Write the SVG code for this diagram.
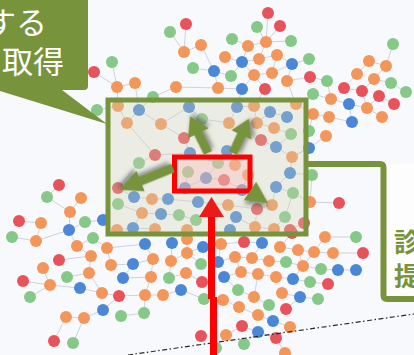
<svg xmlns="http://www.w3.org/2000/svg" width="414" height="355" viewBox="0 0 414 355">
<style>
.o{fill:#F4965A}.b{fill:#4A87D7}.g{fill:#85C887}.r{fill:#E8525A}
.edge{fill:none;stroke:#C3C8D2;stroke-width:0.8}
.olive{fill:#77933C}
.ga{fill:#77933C;filter:url(#sh)}
</style>
<defs>
<filter id="sh" x="-50%" y="-50%" width="200%" height="200%">
<feDropShadow dx="2" dy="3" stdDeviation="2" flood-color="#444" flood-opacity="0.55"/>
</filter>
</defs>
<rect width="414" height="355" fill="#F8F9FC"/>
<g id="connectors">
<path class="edge" d="M268,13L266,42M257,27L266,42M280,26L266,42M266,42L248,46M266,42L291,41M248,46L232,39M248,46L242,62M266,42L259,59M259,59L242,62M259,59L277,55M242,62L225,57M242,62L231,76M242,62L254,75M254,75L272,73M254,75L242,89M254,75L265,89M272,73L277,55M272,73L292,64M231,76L214,71M214,71L193,68M214,71L218,88M218,88L176,87M218,88L242,89M201,45L184,52M184,52L186,24M184,52L170,32M201,45L214,71M176,87L153,97M242,89L237,107M265,89L254,106M277,55L292,64M292,64L309,59M292,64L287,81M287,81L310,77M287,81L296,104M310,77L327,81M327,81L331,99M331,99L313,94M331,99L349,104M344,88L357,74M357,74L369,61M369,61L386,66M386,66L393,44M386,66L374,79M374,79L362,91M374,79L391,83M391,83L406,92M379,96L394,104M379,96L367,108M367,108L349,104M367,108L382,117M349,104L352,122M352,122L329,117M329,117L313,114M313,114L296,104M313,114L309,131M326,136L309,148M309,148L292,157M312,175L290,173M310,202L339,203M310,202L293,193M362,91L344,88M362,91L367,108"/>
<path class="edge" d="M112,62L117,87M94,72L117,87M117,87L135,83M135,83L139,110M117,87L118,106M97,110L118,106M153,97L139,110M118,106L127,123M139,110L127,123M139,110L161,124M161,124L189,107M189,107L202,119M202,119L184,138M202,119L229,123M229,123L237,107M237,107L254,106M254,106L257,123M257,123L270,112M270,112L287,117M274,128L257,123M274,128L291,134M261,140L276,147M276,147L292,157M276,147L291,134M184,138L190,153M155,155L139,163M155,155L190,153M190,153L218,163M227,151L235,165M218,163L206,178M206,178L224,180M188,172L185,188M206,178L185,188M224,180L242,190M248,175L242,190M118,188L134,197M134,197L152,199M152,199L168,199M168,199L198,202M198,202L228,205M228,205L257,209M257,209L272,205M272,205L276,187M276,187L290,173M290,173L292,157M293,193L276,187M118,204L142,213M142,213L161,214M161,214L179,215M179,215L196,220M196,220L187,230M236,217L230,230M236,217L255,227M255,227L274,229M274,229L285,217M290,230L304,223M117,230L133,228M133,228L155,229M142,213L133,228M127,123L155,155M161,124L184,138M118,188L139,163M257,209L255,227M285,217L293,193"/>
<path class="edge" d="M292,157L309,148M312,175L310,202M325,237L356,237M325,237L314,252M314,252L333,253M333,253L363,253M298,250L314,252M280,247L298,250M286,262L303,266M303,266L321,269M321,269L338,270M338,270L356,270M276,277L293,279M293,279L310,282M310,282L328,284M282,293L300,297M300,297L318,299M286,309L300,297M273,321L290,327M290,327L276,338M276,338L285,353M292,233L280,247M303,266L298,250M314,252L303,266M293,279L303,266M269,261L286,262"/>
<path class="edge" d="M145,244L153,259M172,243L171,261M187,253L171,261M203,247L187,253M187,237L187,253M153,259L151,277M171,261L169,278M169,278L186,273M186,273L202,282M151,277L145,295M145,295L163,295M163,295L181,290M181,290L204,299M144,313L145,295M201,264L187,253M221,244L244,242M244,242L262,243M218,262L235,257M235,257L252,258M252,258L269,261M224,277L241,272M241,272L258,274M258,274L276,277M238,290L254,297M254,297L269,305M223,300L239,307M239,307L258,315M258,315L273,321M226,335L242,326M242,326L258,332M258,332L276,338M244,344L258,332M216,348L226,335M221,244L218,262M235,257L241,272M224,277L238,290M258,274L254,297M262,243L252,258"/>
<path class="edge" d="M59,185L47,197M47,197L70,212M81,198L70,212M70,212L69,230M19,221L41,223M41,223L36,241M12,237L36,241M36,241L69,230M69,230L85,222M85,222L103,220M69,230L77,246M77,246L93,238M93,238L107,248M107,248L111,265M77,246L91,256M91,256L89,273M59,260L91,256M43,268L50,285M23,281L50,285M50,285L30,297M50,285L80,288M67,277L89,273M89,273L102,293M80,288L102,293M111,265L133,264M123,278L133,264M102,293L119,296M119,296L103,310M103,310L84,318M84,318L66,317M66,317L54,341M84,318L73,343M121,316L144,313M123,278L151,277M133,264L153,259M107,248L145,244M119,296L145,295"/>
</g>
<g id="network">
<circle cx="268" cy="13" r="6" class="r"/><circle cx="257" cy="27" r="6" class="g"/><circle cx="280" cy="26" r="6" class="r"/>
<circle cx="186" cy="24" r="6" class="r"/><circle cx="170" cy="32" r="6" class="g"/><circle cx="201" cy="45" r="6" class="o"/>
<circle cx="184" cy="52" r="6" class="o"/><circle cx="232" cy="39" r="6" class="g"/><circle cx="248" cy="46" r="6" class="o"/>
<circle cx="266" cy="42" r="6" class="o"/><circle cx="277" cy="55" r="6" class="o"/><circle cx="225" cy="57" r="6" class="o"/>
<circle cx="242" cy="62" r="6" class="b"/><circle cx="259" cy="59" r="6" class="o"/><circle cx="193" cy="68" r="6" class="g"/>
<circle cx="214" cy="71" r="6" class="b"/><circle cx="231" cy="76" r="6" class="g"/><circle cx="254" cy="75" r="6" class="o"/>
<circle cx="272" cy="73" r="6" class="o"/><circle cx="176" cy="87" r="6" class="o"/><circle cx="218" cy="88" r="6" class="o"/>
<circle cx="242" cy="89" r="6" class="b"/><circle cx="265" cy="89" r="6" class="r"/><circle cx="153" cy="97" r="6" class="g"/>
<circle cx="291" cy="41" r="6" class="g"/><circle cx="292" cy="64" r="6" class="b"/><circle cx="309" cy="59" r="6" class="g"/>
<circle cx="287" cy="81" r="6" class="o"/><circle cx="310" cy="77" r="6" class="r"/><circle cx="327" cy="81" r="6" class="g"/>
<circle cx="313" cy="94" r="6" class="g"/><circle cx="331" cy="99" r="6" class="o"/><circle cx="344" cy="88" r="6" class="r"/>
<circle cx="362" cy="91" r="6" class="r"/><circle cx="357" cy="74" r="6" class="o"/><circle cx="369" cy="61" r="6" class="o"/>
<circle cx="386" cy="66" r="6" class="o"/><circle cx="393" cy="44" r="6" class="g"/><circle cx="374" cy="79" r="6" class="o"/>
<circle cx="391" cy="83" r="6" class="g"/><circle cx="406" cy="92" r="6" class="g"/><circle cx="379" cy="96" r="6" class="r"/>
<circle cx="394" cy="104" r="6" class="r"/><circle cx="349" cy="104" r="6" class="b"/><circle cx="367" cy="108" r="6" class="o"/>
<circle cx="382" cy="117" r="6" class="o"/><circle cx="352" cy="122" r="6" class="b"/><circle cx="329" cy="117" r="6" class="o"/>
<circle cx="313" cy="114" r="6" class="o"/><circle cx="309" cy="131" r="6" class="g"/><circle cx="326" cy="136" r="6" class="o"/>
<circle cx="309" cy="148" r="6" class="b"/><circle cx="312" cy="175" r="6" class="g"/><circle cx="310" cy="202" r="6" class="o"/>
<circle cx="339" cy="203" r="6" class="r"/>
<circle cx="112" cy="62" r="6" class="g"/><circle cx="94" cy="72" r="6" class="r"/><circle cx="117" cy="87" r="6" class="o"/>
<circle cx="135" cy="83" r="6" class="o"/><circle cx="97" cy="110" r="6" class="g"/>
<circle cx="118" cy="106" r="6" class="o"/><circle cx="139" cy="110" r="6" class="b"/><circle cx="127" cy="123" r="6" class="o"/>
<circle cx="161" cy="124" r="6" class="o"/><circle cx="189" cy="107" r="6" class="b"/><circle cx="202" cy="119" r="6" class="g"/>
<circle cx="237" cy="107" r="6" class="b"/><circle cx="254" cy="106" r="6" class="o"/><circle cx="270" cy="112" r="6" class="b"/>
<circle cx="287" cy="117" r="6" class="b"/><circle cx="229" cy="123" r="6" class="o"/><circle cx="257" cy="123" r="6" class="o"/>
<circle cx="274" cy="128" r="6" class="o"/><circle cx="291" cy="134" r="6" class="g"/><circle cx="296" cy="104" r="6" class="o"/>
<circle cx="184" cy="138" r="6" class="r"/><circle cx="261" cy="140" r="6" class="r"/><circle cx="276" cy="147" r="6" class="b"/>
<circle cx="292" cy="157" r="6" class="o"/><circle cx="155" cy="155" r="6" class="r"/><circle cx="139" cy="163" r="6" class="g"/>
<circle cx="190" cy="153" r="6" class="b"/><circle cx="227" cy="151" r="6" class="b"/><circle cx="218" cy="163" r="6" class="g"/>
<circle cx="235" cy="165" r="6" class="o"/><circle cx="188" cy="172" r="6" class="g"/><circle cx="206" cy="178" r="6" class="b"/>
<circle cx="224" cy="180" r="6" class="r"/><circle cx="185" cy="188" r="6" class="b"/><circle cx="242" cy="190" r="6" class="b"/>
<circle cx="248" cy="175" r="6" class="o"/><circle cx="118" cy="188" r="6" class="r"/><circle cx="134" cy="197" r="6" class="b"/>
<circle cx="152" cy="199" r="6" class="o"/><circle cx="168" cy="199" r="6" class="b"/><circle cx="198" cy="202" r="6" class="b"/>
<circle cx="228" cy="205" r="6" class="o"/><circle cx="257" cy="209" r="6" class="r"/><circle cx="272" cy="205" r="6" class="o"/>
<circle cx="276" cy="187" r="6" class="b"/><circle cx="290" cy="173" r="6" class="b"/><circle cx="293" cy="193" r="6" class="g"/>
<circle cx="118" cy="204" r="6" class="g"/><circle cx="142" cy="213" r="6" class="o"/><circle cx="161" cy="214" r="6" class="b"/>
<circle cx="179" cy="215" r="6" class="g"/><circle cx="196" cy="220" r="6" class="g"/><circle cx="236" cy="217" r="6" class="b"/>
<circle cx="285" cy="217" r="6" class="g"/><circle cx="304" cy="223" r="6" class="r"/><circle cx="133" cy="228" r="6" class="b"/>
<circle cx="117" cy="230" r="6" class="o"/><circle cx="187" cy="230" r="6" class="o"/><circle cx="230" cy="230" r="6" class="b"/>
<circle cx="255" cy="227" r="6" class="o"/><circle cx="274" cy="229" r="6" class="o"/><circle cx="290" cy="230" r="6" class="r"/>
<circle cx="155" cy="229" r="6" class="o"/>
<circle cx="325" cy="237" r="6" class="o"/><circle cx="356" cy="237" r="6" class="g"/><circle cx="298" cy="250" r="6" class="o"/>
<circle cx="314" cy="252" r="6" class="o"/><circle cx="333" cy="253" r="6" class="o"/><circle cx="363" cy="253" r="6" class="r"/>
<circle cx="286" cy="262" r="6" class="g"/><circle cx="303" cy="266" r="6" class="o"/><circle cx="321" cy="269" r="6" class="g"/>
<circle cx="338" cy="270" r="6" class="b"/><circle cx="356" cy="270" r="6" class="b"/><circle cx="276" cy="277" r="6" class="o"/>
<circle cx="293" cy="279" r="6" class="b"/><circle cx="310" cy="282" r="6" class="g"/><circle cx="328" cy="284" r="6" class="r"/>
<circle cx="282" cy="293" r="6" class="o"/><circle cx="300" cy="297" r="6" class="b"/><circle cx="318" cy="299" r="6" class="g"/>
<circle cx="286" cy="309" r="6" class="r"/><circle cx="273" cy="321" r="6" class="b"/><circle cx="290" cy="327" r="6" class="o"/>
<circle cx="276" cy="338" r="6" class="r"/><circle cx="285" cy="353" r="6" class="o"/><circle cx="292" cy="233" r="6" class="r"/>
<circle cx="280" cy="247" r="6" class="o"/><circle cx="269" cy="261" r="6" class="o"/>
<circle cx="145" cy="244" r="6" class="b"/><circle cx="172" cy="243" r="6" class="b"/><circle cx="187" cy="239" r="6" class="o"/>
<circle cx="203" cy="247" r="6" class="b"/><circle cx="153" cy="259" r="6" class="o"/><circle cx="171" cy="261" r="6" class="o"/>
<circle cx="187" cy="253" r="6" class="o"/><circle cx="201" cy="264" r="6" class="g"/><circle cx="151" cy="277" r="6" class="o"/>
<circle cx="169" cy="278" r="6" class="g"/><circle cx="186" cy="273" r="6" class="o"/><circle cx="202" cy="282" r="6" class="r"/>
<circle cx="145" cy="295" r="6" class="o"/><circle cx="163" cy="295" r="6" class="o"/><circle cx="181" cy="290" r="6" class="b"/>
<circle cx="204" cy="299" r="6" class="g"/><circle cx="144" cy="313" r="6" class="g"/><circle cx="201" cy="336" r="6" class="r"/>
<circle cx="221" cy="244" r="6" class="o"/><circle cx="244" cy="242" r="6" class="r"/><circle cx="262" cy="243" r="6" class="b"/>
<circle cx="218" cy="262" r="6" class="b"/><circle cx="235" cy="257" r="6" class="o"/><circle cx="252" cy="258" r="6" class="o"/>
<circle cx="224" cy="277" r="6" class="b"/><circle cx="241" cy="272" r="6" class="o"/><circle cx="258" cy="274" r="6" class="o"/>
<circle cx="238" cy="290" r="6" class="g"/><circle cx="254" cy="297" r="6" class="o"/><circle cx="223" cy="300" r="6" class="o"/>
<circle cx="239" cy="307" r="6" class="o"/><circle cx="269" cy="305" r="6" class="g"/><circle cx="258" cy="315" r="6" class="o"/>
<circle cx="226" cy="335" r="6" class="o"/><circle cx="242" cy="326" r="6" class="r"/><circle cx="258" cy="332" r="6" class="b"/>
<circle cx="244" cy="344" r="6" class="g"/><circle cx="216" cy="348" r="6" class="g"/>
<circle cx="59" cy="185" r="6" class="r"/><circle cx="47" cy="197" r="6" class="g"/><circle cx="81" cy="198" r="6" class="o"/>
<circle cx="70" cy="212" r="6" class="o"/><circle cx="19" cy="221" r="6" class="r"/><circle cx="41" cy="223" r="6" class="o"/>
<circle cx="12" cy="237" r="6" class="g"/><circle cx="36" cy="241" r="6" class="o"/><circle cx="69" cy="230" r="6" class="b"/>
<circle cx="85" cy="222" r="6" class="g"/><circle cx="77" cy="246" r="6" class="o"/><circle cx="93" cy="238" r="6" class="g"/>
<circle cx="103" cy="220" r="6" class="b"/><circle cx="107" cy="248" r="6" class="o"/><circle cx="59" cy="260" r="6" class="r"/>
<circle cx="91" cy="256" r="6" class="o"/><circle cx="111" cy="265" r="6" class="o"/><circle cx="43" cy="268" r="6" class="o"/>
<circle cx="67" cy="277" r="6" class="g"/><circle cx="89" cy="273" r="6" class="o"/><circle cx="133" cy="264" r="6" class="b"/>
<circle cx="23" cy="281" r="6" class="r"/><circle cx="50" cy="285" r="6" class="o"/><circle cx="80" cy="288" r="6" class="b"/>
<circle cx="123" cy="278" r="6" class="b"/><circle cx="30" cy="297" r="6" class="g"/><circle cx="102" cy="293" r="6" class="o"/>
<circle cx="119" cy="296" r="6" class="r"/><circle cx="103" cy="310" r="6" class="b"/><circle cx="66" cy="317" r="6" class="o"/>
<circle cx="84" cy="318" r="6" class="o"/><circle cx="121" cy="316" r="6" class="g"/><circle cx="54" cy="341" r="6" class="r"/>
<circle cx="73" cy="343" r="6" class="g"/>
</g>
<line x1="128" y1="355" x2="414" y2="314" stroke="#2A2A2A" stroke-width="1.2" stroke-dasharray="5 2.5 1.5 2.5"/>
<g id="focus-box">
<rect x="108" y="100" width="198" height="134" fill="#D0D4B3" fill-opacity="0.32" stroke="#77933C" stroke-width="5"/>
</g>
<g id="query-box">
<rect x="174.5" y="157" width="75.5" height="34" fill="#FFB4B4" fill-opacity="0.35" stroke="#FF0000" stroke-width="5"/>
</g>
<g id="expand-arrows">
<path class="ga" d="M0,-4.5H22V-11.5L41,0L22,11.5V4.5H0Z" transform="translate(208,153) rotate(-116)"/>
<path class="ga" d="M0,-4.5H20V-11L38,0L20,11V4.5H0Z" transform="translate(233,153) rotate(-65)"/>
<path class="ga" d="M0,-4.5H35V-11L58,0L35,11V4.5H0Z" transform="translate(173,168) rotate(158)"/>
<path class="ga" d="M0,-11L22,0L0,11Z" transform="translate(250,191) rotate(34)"/>
</g>
<g id="input-arrow">
<rect x="208" y="215" width="7" height="84" fill="#FF0000"/>
<rect x="210" y="297" width="7" height="60" fill="#FF0000"/>
<path d="M199,217L224,217L211.5,197Z" fill="#EC1A1A"/>
</g>
<g id="diagnosis-callout">
<rect x="383.5" y="164" width="40" height="135" fill="#FDFDFE"/>
<path d="M306,164H380Q383.5,164 383.5,168V295Q383.5,299 387,299H420" fill="none" stroke="#77933C" stroke-width="6"/>
<text font-family="'Noto Sans CJK JP', sans-serif" font-weight="bold" font-size="26" fill="#77933C"><tspan x="394" y="252">診</tspan><tspan x="394" y="286">提</tspan></text>
</g>
<g id="fetch-callout">
<path class="olive" d="M-10,-10H88V86Q88,90 84,90H62L107,124L-10,88Z"/>
<text font-family="'Noto Sans CJK JP', sans-serif" font-size="31" fill="#FFFFFF" text-anchor="end"><tspan x="47" y="34">する</tspan><tspan x="64" y="73">取得</tspan></text>
</g>
</svg>
